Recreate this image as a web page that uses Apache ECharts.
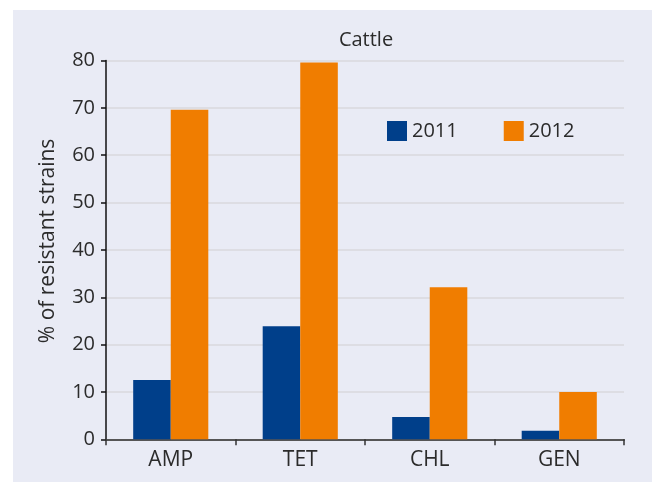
<!DOCTYPE html>
<html>
<head>
<meta charset="utf-8">
<style>
  html, body { margin: 0; padding: 0; background: #ffffff; }
  #chart { width: 655px; height: 482px; }
</style>
<script src="https://cdn.jsdelivr.net/npm/echarts@6/dist/echarts.min.js"></script>
</head>
<body>
<div id="chart"></div>
<script>
// Antibiotic resistance in cattle isolates
const categories = ['AMP', 'TET', 'CHL', 'GEN'];
const values2011 = [12.5, 23.9, 4.7, 1.8];
const values2012 = [69.6, 79.6, 32.1, 10.0];
const yTicks = { min: 0, max: 80, interval: 10 };

const FONT = '"Open Sans", "Noto Sans", sans-serif';
const TEXT = '#2b2b2b';

const chart = echarts.init(document.getElementById('chart'), null, { renderer: 'canvas' });

chart.setOption({
  animation: false,
  backgroundColor: '#ffffff',
  graphic: [{
    type: 'rect',
    z: -10,
    silent: true,
    shape: { x: 13, y: 10, width: 639, height: 472 },
    style: { fill: '#e9ebf5' }
  }],
  title: {
    text: 'Cattle',
    left: 366,
    top: 30,
    padding: 0,
    textAlign: 'center',
    textStyle: { fontFamily: FONT, fontSize: 20, fontWeight: 'normal', color: TEXT }
  },
  legend: {
    left: 387,
    top: 121,
    padding: 0,
    itemWidth: 20,
    itemHeight: 20,
    itemGap: 46,
    icon: 'rect',
    textStyle: { fontFamily: FONT, fontSize: 20, color: TEXT },
    data: ['2011', '2012']
  },
  grid: { left: 106, right: 31, top: 60.5, bottom: 42.7, containLabel: false },
  xAxis: {
    type: 'category',
    data: categories,
    boundaryGap: true,
    axisLine: { lineStyle: { color: '#555555', width: 2 } },
    axisTick: { show: true, length: 6, alignWithLabel: false, lineStyle: { color: '#333333', width: 1.5 } },
    axisLabel: { fontFamily: FONT, fontSize: 21, color: TEXT, margin: 10 }
  },
  yAxis: {
    type: 'value',
    min: yTicks.min,
    max: yTicks.max,
    interval: yTicks.interval,
    name: '% of resistant strains',
    nameLocation: 'middle',
    nameGap: 47,
    nameTextStyle: { fontFamily: FONT, fontSize: 21, color: TEXT, padding: [0, 0, 0, 18] },
    axisLine: { show: true, lineStyle: { color: '#111111', width: 1.5 } },
    axisTick: { show: true, length: 5, lineStyle: { color: '#111111', width: 1.5 } },
    axisLabel: { fontFamily: FONT, fontSize: 20, color: TEXT, margin: 11 },
    splitLine: { show: true, lineStyle: { color: '#d8d8dc', width: 1.5 } }
  },
  series: [
    {
      name: '2011',
      type: 'bar',
      data: values2011,
      barGap: '0%',
      barCategoryGap: '42%',
      itemStyle: { color: '#003f8a' }
    },
    {
      name: '2012',
      type: 'bar',
      data: values2012,
      barGap: '0%',
      barCategoryGap: '42%',
      itemStyle: { color: '#f07d00' }
    }
  ]
});
</script>
</body>
</html>
